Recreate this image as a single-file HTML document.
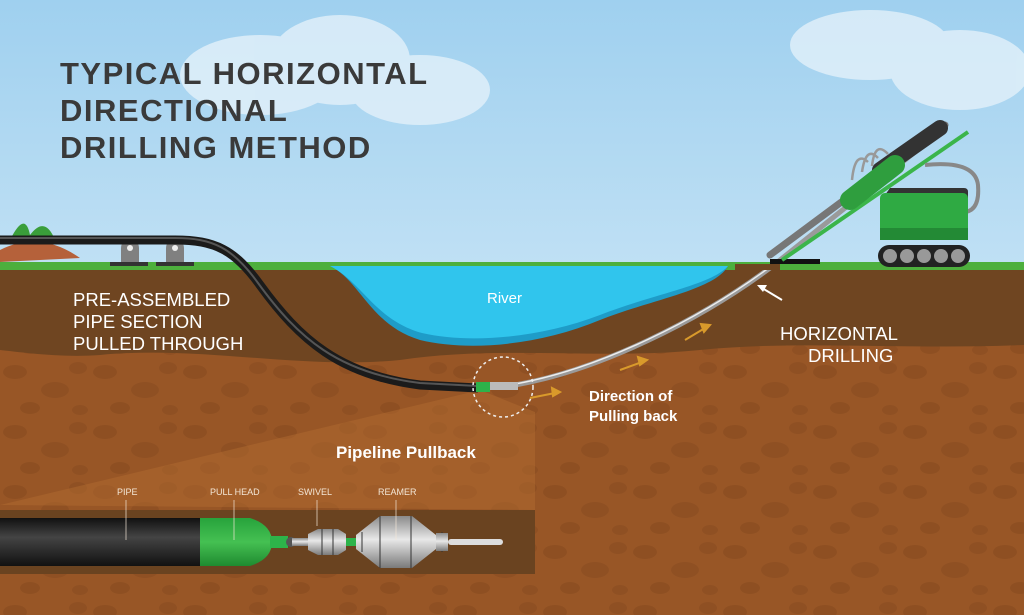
<!DOCTYPE html>
<html><head><meta charset="utf-8"><style>
html,body{margin:0;padding:0;width:1024px;height:615px;overflow:hidden}
svg{display:block}
text{font-family:"Liberation Sans",sans-serif}
</style></head><body>
<svg width="1024" height="615" viewBox="0 0 1024 615" xmlns="http://www.w3.org/2000/svg">
<defs>
<linearGradient id="sky" x1="0" y1="0" x2="0" y2="1">
<stop offset="0" stop-color="#9fd0ef"/><stop offset="1" stop-color="#eaf5fb"/></linearGradient>
<linearGradient id="pipeg" x1="0" y1="0" x2="0" y2="1">
<stop offset="0" stop-color="#111"/><stop offset="0.4" stop-color="#444"/><stop offset="1" stop-color="#111"/></linearGradient>
<linearGradient id="greeng" x1="0" y1="0" x2="0" y2="1">
<stop offset="0" stop-color="#27a33c"/><stop offset="0.5" stop-color="#45c052"/><stop offset="1" stop-color="#1f8a30"/></linearGradient>
<linearGradient id="metal" x1="0" y1="0" x2="0" y2="1">
<stop offset="0" stop-color="#8a8a8a"/><stop offset="0.45" stop-color="#e8e8e8"/><stop offset="1" stop-color="#7a7a7a"/></linearGradient>
<pattern id="rocks" width="90" height="60" patternUnits="userSpaceOnUse">
<ellipse cx="15" cy="12" rx="12" ry="7" fill="#7a4219" opacity="0.35"/>
<ellipse cx="55" cy="30" rx="14" ry="8" fill="#7a4219" opacity="0.3"/>
<ellipse cx="30" cy="48" rx="10" ry="6" fill="#7a4219" opacity="0.35"/>
<ellipse cx="78" cy="8" rx="9" ry="6" fill="#7a4219" opacity="0.3"/>
<ellipse cx="80" cy="50" rx="8" ry="5" fill="#7a4219" opacity="0.3"/>
</pattern>
</defs>
<rect width="1024" height="615" fill="url(#sky)"/>
<g fill="#e3f1fa" opacity="0.8">
<ellipse cx="260" cy="75" rx="80" ry="40"/><ellipse cx="340" cy="60" rx="70" ry="45"/><ellipse cx="420" cy="90" rx="70" ry="35"/>
<ellipse cx="870" cy="45" rx="80" ry="35"/><ellipse cx="960" cy="70" rx="70" ry="40"/>
</g>
<!-- ground -->
<rect x="0" y="268" width="1024" height="347" fill="#985626"/>
<rect x="0" y="340" width="1024" height="275" fill="url(#rocks)"/>
<path d="M0 268 H1024 V345 C900 350 800 340 700 350 C600 360 500 345 400 360 C300 370 200 345 100 355 C60 358 20 352 0 350Z" fill="#6f4521"/>
<rect x="0" y="262" width="1024" height="8" fill="#4daf3d"/>
<!-- lighter cone -->
<path d="M480 390 L0 505 L535 510 L535 412 Z" fill="#b06a30" opacity="0.5"/>
<!-- river -->
<path d="M330 266 H728 C715 290 650 300 600 320 C540 345 470 352 420 340 C370 325 360 280 330 266Z" fill="#1e9cc8"/>
<path d="M330 266 H728 C712 285 650 295 600 315 C540 338 470 344 422 333 C375 320 362 282 330 266Z" fill="#30c5ed"/>
<text x="487" y="303" fill="#fff" font-size="15">River</text>
<!-- plant -->
<path d="M0 250 Q40 230 80 258 L0 262Z" fill="#b5613a"/>
<path d="M10 240 Q25 210 30 235 Q45 215 55 240 Q40 238 30 242Z" fill="#3a9e3a"/>
<!-- pipe supports -->
<g fill="#808080"><circle cx="130" cy="248" r="9"/><rect x="121" y="248" width="18" height="14"/><rect x="110" y="262" width="38" height="4" fill="#333"/>
<circle cx="175" cy="248" r="9"/><rect x="166" y="248" width="18" height="14"/><rect x="156" y="262" width="38" height="4" fill="#333"/></g>
<circle cx="130" cy="248" r="3" fill="#eee"/><circle cx="175" cy="248" r="3" fill="#eee"/>
<!-- black pipe -->
<path d="M0 240 H175 C215 240 235 250 260 285 C300 340 340 375 420 385 L478 388" fill="none" stroke="#1b1b1b" stroke-width="9"/>
<path d="M0 238 H175 C213 238 233 248 258 283 C298 338 338 373 420 383 L478 386" fill="none" stroke="#555" stroke-width="2"/>
<!-- drill pipe gray -->
<path d="M515 385 C600 370 700 320 770 268 L930 140" fill="none" stroke="#9a9a9a" stroke-width="5"/>
<path d="M515 384 C600 369 700 319 770 267" fill="none" stroke="#eee" stroke-width="1.5"/>
<rect x="476" y="382" width="14" height="10" fill="#2db34a"/>
<rect x="490" y="382" width="28" height="8" fill="#bbb"/>
<circle cx="503" cy="387" r="30" fill="none" stroke="#eee" stroke-width="1.5" stroke-dasharray="3,3"/>
<!-- arrows -->
<g stroke="#d99a2b" stroke-width="2" fill="#d99a2b">
<line x1="530" y1="398" x2="555" y2="393"/><path d="M560 392 l-8 -4 l1 8z"/>
<line x1="620" y1="370" x2="642" y2="362"/><path d="M647 360 l-9 -3 l2 8z"/>
<line x1="685" y1="340" x2="705" y2="328"/><path d="M710 325 l-9 -1 l3 8z"/>
</g>
<!-- drill rig -->
<rect x="735" y="264" width="45" height="6" fill="#6f4521"/>
<rect x="770" y="259" width="50" height="5" fill="#111"/>
<line x1="782" y1="260" x2="968" y2="132" stroke="#3bb54a" stroke-width="4"/>
<line x1="770" y1="255" x2="945" y2="125" stroke="#777" stroke-width="7" stroke-linecap="round"/>
<line x1="880" y1="170" x2="940" y2="128" stroke="#333" stroke-width="16" stroke-linecap="round"/>
<line x1="850" y1="200" x2="895" y2="165" stroke="#2f9e3e" stroke-width="20" stroke-linecap="round"/>
<path d="M925 165 Q975 160 978 185 Q980 210 965 212" fill="none" stroke="#888" stroke-width="4"/>
<path d="M885 195 L880 203 H968 V192 Q968 188 964 188 H890Z" fill="#333"/>
<rect x="880" y="193" width="88" height="45" rx="5" fill="#2faa43"/>
<rect x="880" y="228" width="88" height="12" fill="#238a35"/>
<rect x="878" y="245" width="92" height="22" rx="11" fill="#222"/>
<g fill="#999"><circle cx="890" cy="256" r="7"/><circle cx="907" cy="256" r="7"/><circle cx="924" cy="256" r="7"/><circle cx="941" cy="256" r="7"/><circle cx="958" cy="256" r="7"/></g>
<path d="M852 180 Q855 150 868 162 M862 172 Q866 145 878 158 M872 166 Q875 140 888 154" fill="none" stroke="#999" stroke-width="2.5"/>
<!-- white arrow -->
<line x1="782" y1="300" x2="762" y2="288" stroke="#fff" stroke-width="2"/><path d="M757 285 l10 0 l-4 7z" fill="#fff"/>
<!-- title -->
<g fill="#3a3a3a" font-size="31" font-weight="bold" letter-spacing="1.5">
<text x="60" y="84">TYPICAL HORIZONTAL</text>
<text x="60" y="121">DIRECTIONAL</text>
<text x="60" y="158">DRILLING METHOD</text></g>
<g fill="#fff" font-size="18.5">
<text x="73" y="306">PRE-ASSEMBLED</text><text x="73" y="328">PIPE SECTION</text><text x="73" y="350">PULLED THROUGH</text>
<text x="780" y="340">HORIZONTAL</text><text x="808" y="362">DRILLING</text></g>
<g fill="#fff" font-size="15" font-weight="bold">
<text x="589" y="401">Direction of</text><text x="589" y="421">Pulling back</text>
<text x="336" y="458" font-size="17">Pipeline Pullback</text></g>
<!-- pullback box -->
<rect x="0" y="510" width="535" height="64" fill="#6a4320"/>
<rect x="0" y="518" width="200" height="48" fill="url(#pipeg)"/>
<path d="M200 518 H250 Q272 525 272 542 Q272 559 250 566 H200Z" fill="url(#greeng)"/>
<rect x="270" y="536" width="18" height="12" fill="#2db34a"/>
<circle cx="291" cy="542" r="5" fill="#555"/>
<rect x="292" y="538" width="18" height="8" fill="url(#metal)"/>
<path d="M308 534 L318 529 H338 L346 534 V550 L338 555 H318 L308 550Z" fill="url(#metal)"/>
<line x1="322" y1="529" x2="322" y2="555" stroke="#333"/><line x1="333" y1="529" x2="333" y2="555" stroke="#333"/>
<rect x="346" y="538" width="12" height="8" fill="#2db34a"/>
<path d="M356 535 L380 516 H412 L436 535 V549 L412 568 H380 L356 549Z" fill="url(#metal)"/>
<line x1="380" y1="516" x2="380" y2="568" stroke="#333"/><line x1="411" y1="516" x2="411" y2="568" stroke="#333"/>
<line x1="362" y1="532" x2="362" y2="552" stroke="#333"/><line x1="442" y1="532" x2="442" y2="552" stroke="#333"/>
<rect x="436" y="533" width="12" height="18" fill="url(#metal)"/>
<rect x="448" y="539" width="55" height="6" rx="3" fill="#ddd"/>
<g fill="#f3e6d6" font-size="9">
<text x="117" y="495">PIPE</text><text x="210" y="495">PULL HEAD</text><text x="298" y="495">SWIVEL</text><text x="378" y="495">REAMER</text></g>
<g stroke="#f3e6d6" stroke-width="0.7">
<line x1="126" y1="500" x2="126" y2="540"/><line x1="234" y1="500" x2="234" y2="540"/><line x1="317" y1="500" x2="317" y2="526"/><line x1="396" y1="500" x2="396" y2="540"/></g>
</svg>
</body></html>
